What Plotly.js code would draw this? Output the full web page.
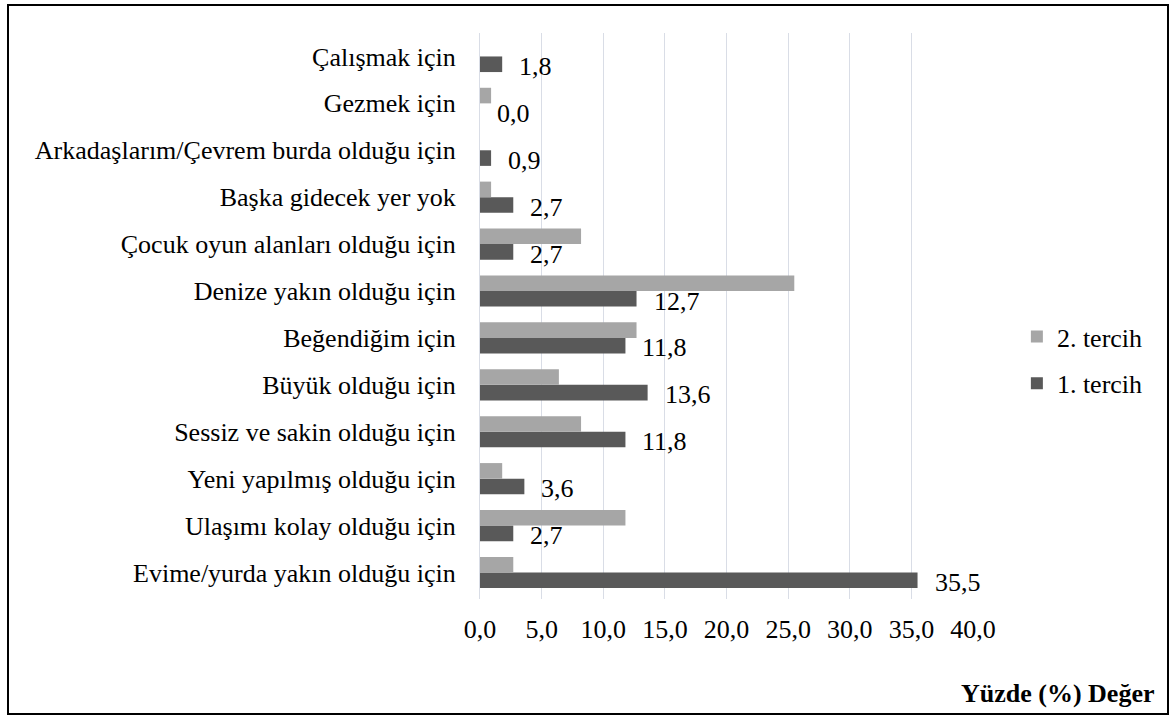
<!DOCTYPE html>
<html><head><meta charset="utf-8">
<script src="https://cdn.plot.ly/plotly-3.0.1.min.js"></script>
<style>
body{margin:0;padding:0;background:#fff;}
#wrap{position:relative;width:1171px;height:716px;}
#chart{position:absolute;left:0;top:0;width:1171px;height:716px;}
#frame{position:absolute;left:7px;top:4px;width:1158px;height:707px;border:2px solid #000;pointer-events:none;}
</style>
</head><body>
<div id="wrap"><div id="chart"></div><div id="frame"></div></div>
<script>
// categories bottom to top
const categories = [
  "Evime/yurda yakın olduğu için",
  "Ulaşımı kolay olduğu için",
  "Yeni yapılmış olduğu için",
  "Sessiz ve sakin olduğu için",
  "Büyük olduğu için",
  "Beğendiğim için",
  "Denize yakın olduğu için",
  "Çocuk oyun alanları olduğu için",
  "Başka gidecek yer yok",
  "Arkadaşlarım/Çevrem burda olduğu için",
  "Gezmek için",
  "Çalışmak için"
];
const tercih1 = [35.5, 2.7, 3.6, 11.8, 13.6, 11.8, 12.7, 2.7, 2.7, 0.9, 0.0, 1.8];
const tercih2 = [2.7, 11.8, 1.8, 8.2, 6.4, 12.7, 25.5, 8.2, 0.9, 0.0, 0.9, 0.0];
const xTicks = [0, 5, 10, 15, 20, 25, 30, 35, 40];

const font = "Liberation Serif";
const fs = 26;

const traces = [
  {type:'bar', orientation:'h', name:'1. tercih', y:categories, x:tercih1,
   marker:{color:'#595959'}, legendgroup:'a', legendrank:2, hoverinfo:'x'},
  {type:'bar', orientation:'h', name:'2. tercih', y:categories, x:tercih2,
   marker:{color:'#a6a6a6'}, legendgroup:'b', legendrank:1, hoverinfo:'x'}
];

const annotations = categories.map((c,i)=>({
  x: tercih1[i], y: c, xref:'x', yref:'y',
  text: tercih1[i].toFixed(1).replace('.', ','),
  showarrow:false, xanchor:'left', yanchor:'middle',
  xshift: 15, yshift: -10,
  font:{family:font, size:fs, color:'#000'}
}));
annotations.push({
  x:1, y:0, xref:'paper', yref:'paper', xanchor:'right', yanchor:'middle',
  text:'<b>Yüzde (%) Değer</b>', showarrow:false,
  xshift: 184, yshift: -94,
  font:{family:font, size:fs, color:'#000'}
});

const layout = {
  width:1171, height:716,
  margin:{l:480, r:198, t:33, b:117},
  paper_bgcolor:'#fff', plot_bgcolor:'#fff',
  barmode:'group', bargap:0.335, bargroupgap:0,
  separators:',.',
  font:{family:font, size:fs, color:'#000'},
  showlegend:true,
  legend:{x:1.089, y:0.422, xanchor:'left', yanchor:'middle',
    traceorder:'grouped', tracegroupgap:10,
    font:{family:font, size:fs, color:'#000'}, bgcolor:'rgba(0,0,0,0)'},
  xaxis:{range:[0,40], tickvals:xTicks, tickformat:'.1f',
    showgrid:true, gridcolor:'#d9dde6', gridwidth:1,
    zeroline:false, showline:false, ticks:'', ticklabelstandoff:12,
    tickfont:{family:font, size:fs, color:'#000'}, fixedrange:true},
  yaxis:{type:'category', categoryorder:'array', categoryarray:categories,
    showgrid:false, zeroline:false, showline:true, linecolor:'#d9dde6', linewidth:1,
    ticks:'', ticklabelstandoff:18,
    tickfont:{family:font, size:fs, color:'#000'}, fixedrange:true},
  annotations: annotations
};

Plotly.newPlot('chart', traces, layout, {displayModeBar:false, staticPlot:true});
</script>
</body></html>
